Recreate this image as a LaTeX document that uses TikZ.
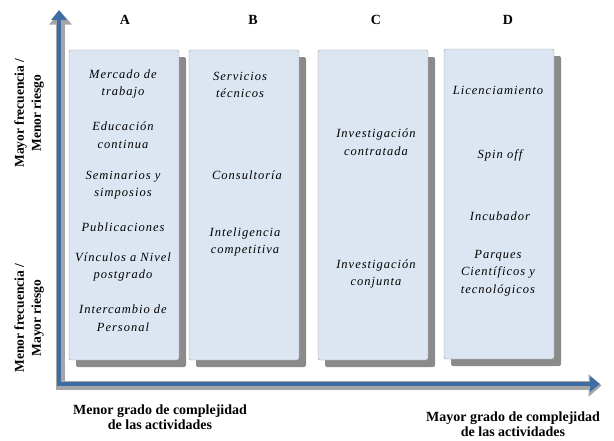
\documentclass[tikz,border=0pt]{standalone}
\usepackage{fontspec}
\setmainfont{Liberation Serif}
\usetikzlibrary{arrows.meta,shadows,positioning}
\definecolor{axisblue}{HTML}{3F6CA3}
\definecolor{boxfill}{HTML}{DCE6F2}

\begin{document}
\begin{tikzpicture}[
    x=1pt, y=-1pt,
    col/.style={draw=gray!80, fill=boxfill, minimum width=110pt, minimum height=310pt,
                rounded corners=2pt,
                drop shadow={shadow xshift=7pt, shadow yshift=-7pt, fill=black!65, opacity=0.7}},
    item/.style={font=\fontsize{12.5}{17.5}\selectfont\itshape\addfontfeature{LetterSpace=8},
                 align=center, inner sep=1pt},
    hdr/.style={font=\fontsize{14}{16}\selectfont\bfseries},
    side/.style={font=\fontsize{13.5}{17}\selectfont\bfseries, align=center, rotate=90},
    foot/.style={font=\fontsize{14}{15}\selectfont\bfseries, align=center},
    axshadow/.style={gray!70, line width=9pt,
                     {Triangle[length=13pt, width=22pt]}-{Triangle[length=13pt, width=22pt]}},
    axline/.style={axisblue, line width=4pt,
                   {Triangle[length=10pt, width=15pt]}-{Triangle[length=10pt, width=15pt]}}
]
\useasboundingbox (0,0) rectangle (614,440);

% ---------- columns ----------
\node[col] (colA) at (124,205) {};
\node[col] (colB) at (244,205) {};
\node[col] (colC) at (373,205) {};
\node[col] (colD) at (499,204) {};

% ---------- headers ----------
\node[hdr] (hdrA) at (125,20) {A};
\node[hdr] (hdrB) at (253,20) {B};
\node[hdr] (hdrC) at (376,20) {C};
\node[hdr] (hdrD) at (508,20) {D};

% ---------- axes ----------
\coordinate (ytip) at (59,10);
\coordinate (origin) at (59,384);
\coordinate (xtip) at (600,384);
\draw[axshadow] ([shift={(1.5,1.5)}]ytip) -- ([shift={(1.5,1.5)}]origin) -- ([shift={(1.5,1.5)}]xtip);
\draw[axline] (ytip) -- (origin) -- (xtip);

% ---------- column A ----------
\node[item] (mercado) at (123,84) {Mercado de\\trabajo};
\node[item] (educ) at (123,135) {Educación\\continua};
\node[item] (semin) at (123,185) {Seminarios y\\simposios};
\node[item] (publ) at (123,227) {Publicaciones};
\node[item] (vinc) at (123,267) {Vínculos a Nivel\\postgrado};
\node[item] (inter) at (123,318) {Intercambio de\\Personal};

% ---------- column B ----------
\node[item] (serv) at (240,85) {Servicios\\técnicos};
\node[item] (cons) at (247,175) {Consultoría};
\node[item] (intel) at (245,242) {Inteligencia\\competitiva};

% ---------- column C ----------
\node[item] (contr) at (376,142) {Investigación\\contratada};
\node[item] (conj) at (376,274) {Investigación\\conjunta};

% ---------- column D ----------
\node[item] (lic) at (498,90) {Licenciamiento};
\node[item] (spin) at (500,155) {Spin off};
\node[item] (incub) at (500,216) {Incubador};
\node[item] (parq) at (498,273) {Parques\\Científicos y\\tecnológicos};

% ---------- axis labels ----------
\node[side] (high) at (29,113) {Mayor frecuencia /\\Menor riesgo};
\node[side] (low) at (29,318) {Menor frecuencia /\\Mayor riesgo};
\node[foot] (simple) at (160,417) {Menor grado de complejidad\\de las actividades};
\node[foot] (complex) at (513,424) {Mayor grado de complejidad\\de las actividades};

\end{tikzpicture}
\end{document}
